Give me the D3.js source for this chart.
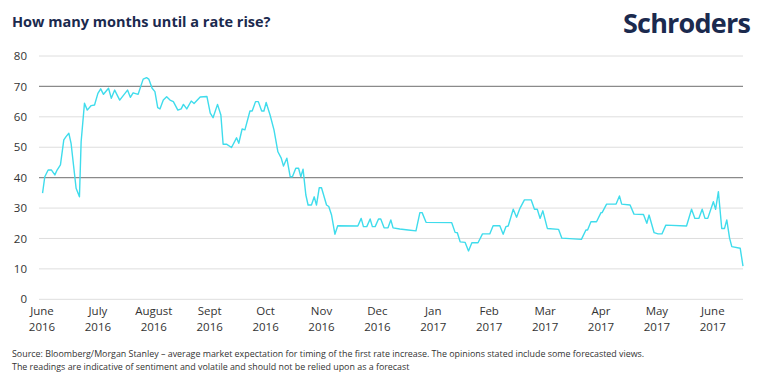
<!DOCTYPE html>
<html>
<head>
<meta charset="utf-8">
<script src="https://cdn.jsdelivr.net/npm/d3@7"></script>
<style>
  body { margin: 0; background: #fff; }
  text { font-family: "Open Sans", "Noto Sans", sans-serif; }
</style>
</head>
<body>
<div id="chart"></div>
<script>
// month labels, one per month from June 2016
const monthNames = ['June', 'July', 'August', 'Sept', 'Oct', 'Nov', 'Dec', 'Jan', 'Feb', 'Mar', 'Apr', 'May', 'June'];
const monthYears = ['2016', '2016', '2016', '2016', '2016', '2016', '2016', '2017', '2017', '2017', '2017', '2017', '2017'];
const yTicks = [0, 10, 20, 30, 40, 50, 60, 70, 80];
const darkGrid = [40, 70];

// position in months since start of June 2016
const months = [0.01, 0.05, 0.11, 0.17, 0.23, 0.27, 0.33, 0.39, 0.43, 0.48, 0.52, 0.57, 0.61, 0.67, 0.70, 0.76, 0.81, 0.88, 0.94,
  1.00, 1.05, 1.10, 1.19, 1.24, 1.30, 1.39, 1.53, 1.58, 1.63, 1.72, 1.81, 1.87, 1.91, 1.97,
  2.02, 2.07, 2.11, 2.17, 2.23, 2.29, 2.35, 2.43, 2.49, 2.53, 2.59, 2.67, 2.72, 2.83, 2.95,
  3.01, 3.06, 3.14, 3.20, 3.24, 3.30, 3.39, 3.48, 3.52, 3.58, 3.63, 3.72, 3.76, 3.82, 3.87, 3.93, 3.97,
  4.01, 4.08, 4.15, 4.22, 4.28, 4.32, 4.38, 4.44, 4.48, 4.54, 4.59, 4.63, 4.67, 4.72, 4.76, 4.82, 4.87, 4.91, 4.96,
  5.00, 5.09, 5.13, 5.18, 5.24, 5.29, 5.65, 5.71, 5.75, 5.81, 5.87, 5.91, 5.96,
  6.02, 6.06, 6.12, 6.19, 6.24, 6.28, 6.40, 6.55, 6.69, 6.76, 6.80, 6.87,
  7.33, 7.39, 7.43, 7.48, 7.57, 7.63, 7.69, 7.80, 7.88,
  8.01, 8.07, 8.19, 8.25, 8.30, 8.34, 8.43, 8.49, 8.55, 8.63, 8.75, 8.81, 8.86, 8.91, 8.96,
  9.04, 9.24, 9.30, 9.65, 9.73, 9.76, 9.82, 9.92,
  10.00, 10.02, 10.10, 10.27, 10.33, 10.37, 10.52, 10.59, 10.76, 10.82, 10.86, 10.95,
  11.02, 11.09, 11.16, 11.53, 11.62, 11.68, 11.75, 11.81, 11.86, 11.91,
  12.01, 12.05, 12.10, 12.16, 12.21, 12.25, 12.30, 12.34, 12.49, 12.54];

const monthsToHike = [34.9, 40.3, 42.5, 42.5, 40.9, 42.5, 44.2, 52.4, 53.5, 54.6, 51.3, 43.1, 36.5, 33.7, 51.8, 64.5, 62.2, 63.7, 63.9,
  67.7, 69.2, 67.4, 69.4, 66.1, 68.8, 65.5, 68.8, 66.4, 67.9, 67.4, 72.4, 72.9, 72.4, 69.4,
  68.3, 63.0, 62.6, 65.5, 66.6, 65.5, 65.0, 62.2, 62.6, 64.1, 62.6, 65.2, 64.4, 66.5, 66.7,
  61.2, 59.7, 64.1, 60.6, 51.0, 51.0, 49.9, 53.1, 51.3, 56.0, 55.7, 61.9, 61.9, 65.0, 65.0, 61.9, 61.9,
  64.7, 60.6, 55.7, 48.5, 46.4, 43.8, 46.4, 40.3, 40.3, 43.1, 43.1, 40.3, 42.8, 34.3, 31.0, 31.0, 33.7, 31.0, 36.7,
  36.7, 31.0, 30.5, 27.7, 21.4, 24.2, 24.1, 26.6, 23.9, 23.9, 26.4, 23.9, 23.9,
  26.4, 26.4, 23.5, 23.5, 26.1, 23.5, 23.1, 22.8, 22.5, 28.5, 28.5, 25.3,
  25.2, 22.0, 21.9, 18.9, 18.7, 15.9, 18.6, 18.6, 21.5,
  21.5, 24.2, 24.2, 21.4, 23.9, 24.1, 29.6, 27.0, 29.9, 32.7, 32.7, 29.6, 29.6, 26.6, 29.1,
  23.3, 23.0, 20.1, 19.7, 22.8, 22.8, 25.5, 25.5,
  28.5, 28.5, 31.3, 31.3, 34.0, 31.3, 31.0, 28.0, 27.9, 25.0, 27.7, 21.9,
  21.5, 21.5, 24.4, 24.1, 29.6, 26.6, 26.6, 29.6, 26.6, 26.6,
  32.1, 29.6, 35.4, 23.3, 23.3, 26.1, 20.1, 17.3, 16.8, 10.9];

const w = 770;
const h = 382;
const gridLeft = 39;
const gridRight = 743;

const svg = d3.select('#chart')
              .append('svg')
              .attr('width', w)
              .attr('height', h);

const xScale = d3.scaleLinear()
                 .domain([0, 12])
                 .range([42, 712.8]);

const yScale = d3.scaleLinear()
                 .domain([0, 80])
                 .range([299.3, 56]);

// title and logo
svg.append('text')
   .attr('x', 12)
   .attr('y', 27)
   .attr('fill', '#1b2a4e')
   .style('font-size', '14.5px')
   .style('font-weight', 'bold')
   .text('How many months until a rate rise?');

svg.append('text')
   .attr('x', 750)
   .attr('y', 33)
   .attr('text-anchor', 'end')
   .attr('fill', '#1b2a4e')
   .style('font-size', '27px')
   .style('font-weight', 'bold')
   .style('letter-spacing', '-0.8px')
   .text('Schroders');

// gridlines
svg.append('g')
   .selectAll('line')
   .data(yTicks)
   .enter()
   .append('line')
   .attr('x1', gridLeft)
   .attr('x2', gridRight)
   .attr('y1', d => yScale(d))
   .attr('y2', d => yScale(d))
   .attr('stroke', d => darkGrid.includes(d) ? '#8a8a8a' : '#dedede')
   .attr('stroke-width', d => darkGrid.includes(d) ? 1.2 : 1);

// y labels
const yAxis = d3.axisLeft(yScale)
                .tickValues(yTicks)
                .tickSize(0)
                .tickPadding(0);

const yG = svg.append('g')
              .attr('transform', 'translate(27, 0)')
              .call(yAxis);
yG.select('.domain').remove();
yG.selectAll('text')
  .attr('fill', '#333')
  .style('font-size', '11.5px')
  .style('font-family', '"Open Sans", "Noto Sans", sans-serif');

// x labels, two lines each
const xLabels = svg.append('g')
                   .selectAll('text')
                   .data(monthNames)
                   .enter()
                   .append('text')
                   .attr('text-anchor', 'middle')
                   .attr('fill', '#333')
                   .style('font-size', '11.5px');

xLabels.append('tspan')
       .attr('x', (d, i) => xScale(i))
       .attr('y', 315)
       .text(d => d);

xLabels.append('tspan')
       .attr('x', (d, i) => xScale(i))
       .attr('y', 331)
       .text((d, i) => monthYears[i]);

// the line
const line = d3.line()
               .x((d, i) => xScale(months[i]))
               .y(d => yScale(d));

svg.append('path')
   .datum(monthsToHike)
   .attr('d', line)
   .attr('fill', 'none')
   .attr('stroke', '#3fdcec')
   .attr('stroke-width', 1.4)
   .attr('stroke-linejoin', 'round');

// source note
const notes = [
    'Source: Bloomberg/Morgan Stanley \u2013 average market expectation for timing of the first rate increase. The opinions stated include some forecasted views.',
    'The readings are indicative of sentiment and volatile and should not be relied upon as a forecast'
];

svg.append('g')
   .selectAll('text')
   .data(notes)
   .enter()
   .append('text')
   .attr('x', 12)
   .attr('y', (d, i) => 357 + i * 13)
   .attr('fill', '#333')
   .style('font-size', '8.9px')
   .text(d => d);
</script>
</body>
</html>
